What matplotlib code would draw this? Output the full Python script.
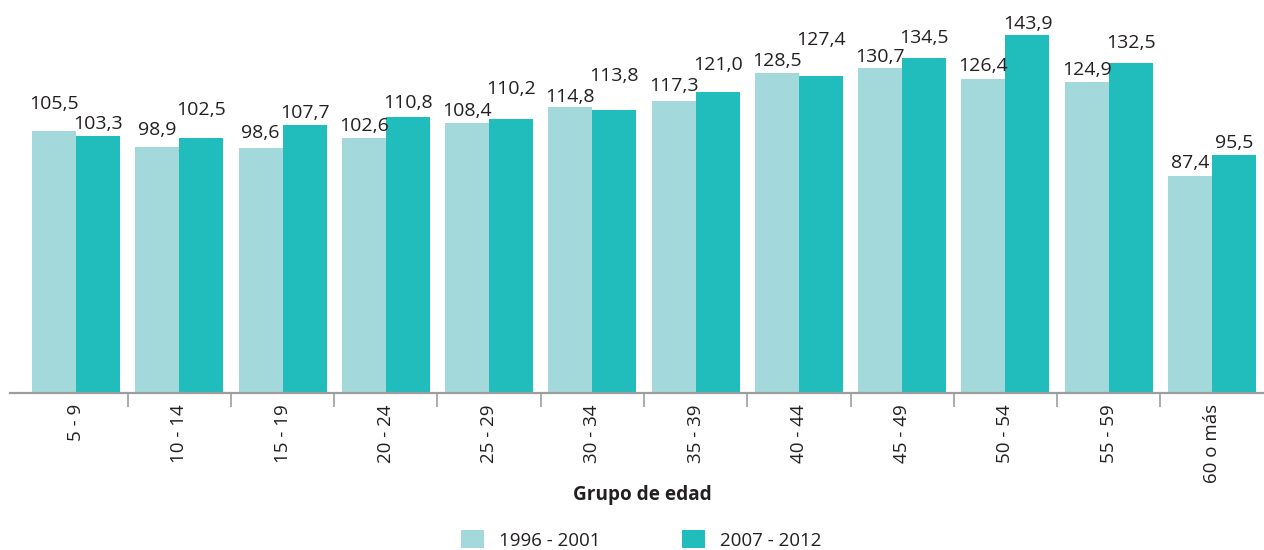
import matplotlib
matplotlib.use("Agg")
import matplotlib.pyplot as plt
from matplotlib.patches import Patch
import numpy as np

categories = ["5 - 9", "10 - 14", "15 - 19", "20 - 24", "25 - 29", "30 - 34",
              "35 - 39", "40 - 44", "45 - 49", "50 - 54", "55 - 59", "60 o más"]
serie_1996 = [105.5, 98.9, 98.6, 102.6, 108.4, 114.8, 117.3, 128.5, 130.7, 126.4, 124.9, 87.4]
serie_2007 = [103.3, 102.5, 107.7, 110.8, 110.2, 113.8, 121.0, 127.4, 134.5, 143.9, 132.5, 95.5]
series_names = ["1996 - 2001", "2007 - 2012"]

# layout: gap (px) between bar top and label baseline, as placed in the original
label_gap_1 = [22, 12, 10, 7, 7, 5, 10, 7, 6, 8, 7, 8]
label_gap_2 = [7, 23, 7, 9, 25, 29, 22, 31, 15, 6, 15, 7]

c1 = "#A3D9DA"
c2 = "#21BDBC"
txt = "#231F20"

plt.rcParams['font.family'] = ['Open Sans', 'DejaVu Sans']

fig = plt.figure(figsize=(12.64, 5.5), dpi=100)
ax = fig.add_axes([10/1264, 1 - 393/550, 1 - 10/1264, 393/550])

x = np.arange(len(categories))
w = 0.426
b1 = ax.bar(x - w/2, serie_1996, width=w, color=c1, zorder=2)
b2 = ax.bar(x + w/2, serie_2007, width=w, color=c2, zorder=2)

fs = 14
for bars, vals, gaps in ((b1, serie_1996, label_gap_1), (b2, serie_2007, label_gap_2)):
    for r, v, g in zip(bars, vals, gaps):
        ax.annotate(f"{v:.1f}".replace(".", ","), (r.get_x() + r.get_width()/2, v),
                    xytext=(0, g * 0.72), textcoords="offset points", ha="center", va="baseline",
                    fontsize=fs, color=txt)

ax.set_xlim(-0.639, len(categories) - 0.497)
ax.set_ylim(0, 158)

for s in ("top", "right", "left"):
    ax.spines[s].set_visible(False)
ax.spines["bottom"].set_color("#9D9D9D")
ax.spines["bottom"].set_linewidth(1.6)
ax.set_yticks([])

ax.set_xticks(x)
ax.set_xticklabels(categories, rotation=90, fontsize=13.5, color=txt)
ax.tick_params(axis="x", which="major", length=0, pad=8)
ax.set_xticks(x[:-1] + 0.5, minor=True)
ax.tick_params(axis="x", which="minor", length=10, width=1.2, color="#9D9D9D")

fig.text(642/1264, 1 - 495/550, "Grupo de edad", ha="center", va="center",
         fontsize=13.7, fontweight="bold", color=txt)

handles = [Patch(facecolor=c1, edgecolor="none"), Patch(facecolor=c2, edgecolor="none")]
fig.legend(handles, series_names, loc="center", bbox_to_anchor=(641/1264, 1 - 540/550),
           ncol=2, frameon=False, fontsize=13.5, handlelength=1.23, handleheight=1.07,
           handletextpad=0.8, columnspacing=4.37, labelcolor=txt, borderaxespad=0)

fig.savefig("out.png", dpi=100)
